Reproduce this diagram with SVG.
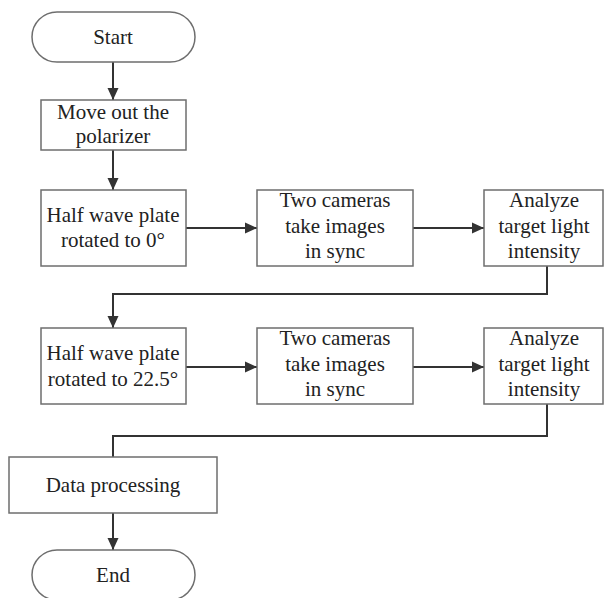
<svg xmlns="http://www.w3.org/2000/svg" width="605" height="598" viewBox="0 0 605 598">
<style>
.box{fill:#fff;stroke:#6e6e6e;stroke-width:1.5}
.t{font-family:'Liberation Serif','Times New Roman',Times,'DejaVu Serif',serif;font-size:21px;fill:#222;text-anchor:middle}
.c{fill:none;stroke:#333;stroke-width:2}
</style>
<defs>
<marker id="ah" markerUnits="userSpaceOnUse" markerWidth="12" markerHeight="12" viewBox="0 0 12 12" refX="12" refY="6" orient="auto">
<path d="M0,0.5 L12,6 L0,11.5 Z" fill="#333"/>
</marker>
</defs>
<rect width="605" height="598" fill="#fff"/>
<g id="connectors">
<path class="c" d="M113,62 V100" marker-end="url(#ah)"/>
<path class="c" d="M113,150 V190" marker-end="url(#ah)"/>
<path class="c" d="M186,228 H257" marker-end="url(#ah)"/>
<path class="c" d="M413,228 H484" marker-end="url(#ah)"/>
<path class="c" d="M547,266 V294 H113 V328" marker-end="url(#ah)"/>
<path class="c" d="M186,367 H257" marker-end="url(#ah)"/>
<path class="c" d="M413,367 H484" marker-end="url(#ah)"/>
<path class="c" d="M547,404 V436 H113 V457"/>
<path class="c" d="M113,513 V550" marker-end="url(#ah)"/>
</g>
<g id="start">
<rect class="box" x="32" y="12" width="163" height="50" rx="25" ry="25"/>
<text class="t" x="113" y="44" font-family="Liberation Serif, serif">Start</text>
</g>
<g id="move">
<rect class="box" x="41" y="100" width="145" height="50"/>
<text class="t" x="113" y="119">Move out the</text>
<text class="t" x="113" y="143">polarizer</text>
</g>
<g id="hwp0">
<rect class="box" x="41" y="190" width="145" height="76"/>
<text class="t" x="113" y="222">Half wave plate</text>
<text class="t" x="113" y="247">rotated to 0°</text>
</g>
<g id="cam1">
<rect class="box" x="257" y="190" width="156" height="76"/>
<text class="t" x="335" y="207">Two cameras</text>
<text class="t" x="335" y="233">take images</text>
<text class="t" x="335" y="258">in sync</text>
</g>
<g id="ana1">
<rect class="box" x="484" y="190" width="119" height="76"/>
<text class="t" x="544" y="207">Analyze</text>
<text class="t" x="544" y="233">target light</text>
<text class="t" x="544" y="258">intensity</text>
</g>
<g id="hwp22">
<rect class="box" x="41" y="328" width="145" height="76"/>
<text class="t" x="113" y="360">Half wave plate</text>
<text class="t" x="113" y="386">rotated to 22.5°</text>
</g>
<g id="cam2">
<rect class="box" x="257" y="328" width="156" height="76"/>
<text class="t" x="335" y="345">Two cameras</text>
<text class="t" x="335" y="371">take images</text>
<text class="t" x="335" y="396">in sync</text>
</g>
<g id="ana2">
<rect class="box" x="484" y="328" width="119" height="76"/>
<text class="t" x="544" y="345">Analyze</text>
<text class="t" x="544" y="371">target light</text>
<text class="t" x="544" y="396">intensity</text>
</g>
<g id="data">
<rect class="box" x="9" y="457" width="208" height="56"/>
<text class="t" x="113" y="492">Data processing</text>
</g>
<g id="end">
<rect class="box" x="32" y="550" width="163" height="50" rx="25" ry="25"/>
<text class="t" x="113" y="582">End</text>
</g>
</svg>
